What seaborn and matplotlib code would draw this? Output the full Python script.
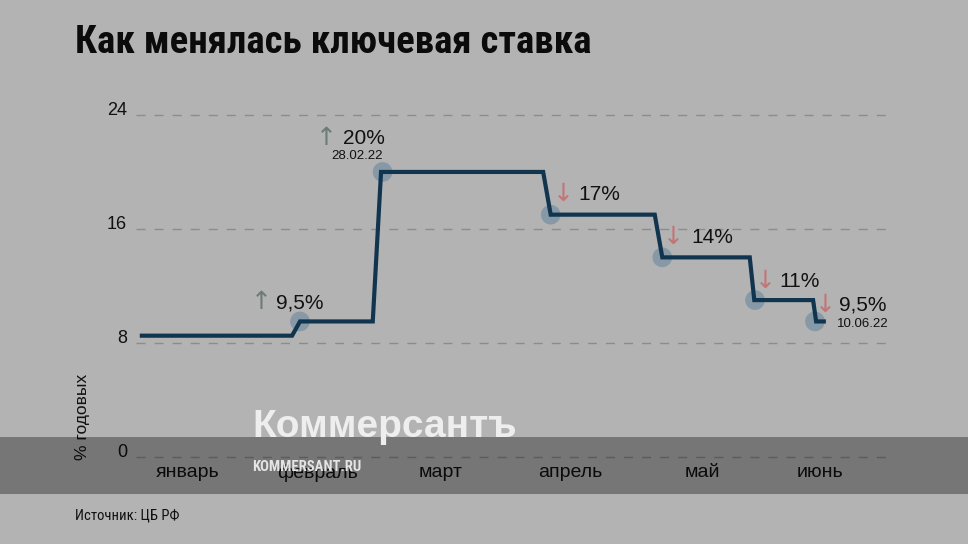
import matplotlib
matplotlib.use("Agg")
import matplotlib.pyplot as plt
from matplotlib import font_manager as fm
from matplotlib.patches import Rectangle
import seaborn as sns
import pandas as pd

# ---------------- data ----------------
title = "Как менялась ключевая ставка"
source = "Источник: ЦБ РФ"
y_label = "% годовых"
months = ["январь", "февраль", "март", "апрель", "май", "июнь"]
month_pos = [6.9, 24.1, 40.45, 57.55, 75.05, 90.7]          # timeline position of month labels
y_ticks = [0, 8, 16, 24]

# step line of the key rate (timeline position, rate %)
step_x = [0.5, 20.7, 21.75, 31.4, 32.5, 54.0, 55.0, 68.8, 69.8, 81.4, 82.0, 89.8, 90.2, 91.5]
step_rate = [8.5, 8.5, 9.5, 9.5, 20, 20, 17, 17, 14, 14, 11, 11, 9.5, 9.5]

# rate decisions (markers + labels)
change_x = [21.75, 32.7, 55.0, 69.8, 82.1, 90.05]
change_rate = [9.5, 20, 17, 14, 11, 9.5]
change_label = ["9,5%", "20%", "17%", "14%", "11%", "9,5%"]
change_dir = ["up", "up", "down", "down", "down", "down"]
change_date = ["", "28.02.22", "", "", "", "10.06.22"]

# ---------------- fonts ----------------
sns.set_theme(style="white")
names = {f.name for f in fm.fontManager.ttflist}
REG = "Liberation Sans" if "Liberation Sans" in names else "DejaVu Sans"
plt.rcParams["font.family"] = [REG, "DejaVu Sans"]


def narrow_font(bold):
    """Find an installed narrow/condensed font file; fall back to regular family."""
    prefs = ["liberationsansnarrow", "robotocondensed", "opensanscondensed",
             "notosanscondensed", "dejavusanscondensed"]
    cands = []
    for f in fm.fontManager.ttflist:
        key = (f.fname.split("/")[-1]).lower().replace("-", "").replace("_", "")
        if "narrow" in key or "condensed" in key:
            is_bold = ("bold" in key) and ("semibold" not in key) and ("extrabold" not in key)
            italic = "italic" in key or "oblique" in key
            light = any(w in key for w in ["light", "thin", "medium", "semi", "black", "extra"])
            if italic or light:
                continue
            if is_bold != bold:
                continue
            rank = len(prefs)
            for i, p in enumerate(prefs):
                if key.startswith(p):
                    rank = i
                    break
            cands.append((rank, f.fname))
    if cands:
        cands.sort()
        return fm.FontProperties(fname=cands[0][1])
    return fm.FontProperties(family=REG, weight="bold" if bold else "normal")


NB = narrow_font(True)
NR = narrow_font(False)

BG = "#b3b3b3"
LINE = "#11354f"
UP = "#6c7b76"
DOWN = "#c47475"
TXT = "#111111"

fig = plt.figure(figsize=(9.68, 5.44), dpi=100, facecolor=BG)
ax = fig.add_axes([136 / 968, 1 - 456.7 / 544, (890 - 136) / 968, (456.7 - 115) / 544])
ax.set_facecolor(BG)

df_line = pd.DataFrame({"x": step_x, "rate": step_rate})
df_pts = pd.DataFrame({"x": change_x, "rate": change_rate})

sns.scatterplot(data=df_pts, x="x", y="rate", s=200, color="#7c92a4", alpha=0.8,
                edgecolor="none", ax=ax, zorder=2, legend=False)
sns.lineplot(data=df_line, x="x", y="rate", sort=False, estimator=None,
             color=LINE, linewidth=3.0, ax=ax, zorder=3, legend=False)
for l in ax.lines:
    l.set_solid_joinstyle("miter")
    l.set_solid_capstyle("butt")

ax.set_xlim(0, 100)
ax.set_ylim(0, 24)
ax.set_yticks(y_ticks)
ax.set_yticklabels([str(v) for v in y_ticks], fontsize=13, color=TXT, family=REG)
for lbl in ax.get_yticklabels():
    lbl.set_va("baseline")
ax.set_xticks(month_pos)
ax.set_xticklabels(months, fontsize=14, color=TXT, family=REG)
ax.tick_params(axis="y", length=0, pad=6.5)
ax.tick_params(axis="x", length=0, pad=5.5)
ax.set_xlabel("")
ax.set_ylabel("")
ax.yaxis.grid(True, color="#8c8c8c", linewidth=1.0, linestyle=(0, (6.5, 6.5)))
ax.xaxis.grid(False)
for gl in ax.get_ygridlines():
    gl.set_clip_on(False)
for s in ax.spines.values():
    s.set_visible(False)

# annotation offsets in pixels: (arrow centre dx, value left dx, baseline dy, date dx, date dy, date ha)
offs = [
    (-39, -24, 13, 0, 0, "left"),
    (-56, -40, 28, -25, 13, "center"),
    (13, 28, 15, 0, 0, "left"),
    (11, 29, 14, 0, 0, "left"),
    (10, 24, 13, 0, 0, "left"),
    (10, 24, 11, 22, -6, "left"),
]
for x, r, lab, d, dt, o in zip(change_x, change_rate, change_label, change_dir, change_date, offs):
    adx, vdx, dy, ddx, ddy, dha = o
    arrow = "↑" if d == "up" else "↓"
    ax.annotate(arrow, (x, r), xytext=(adx, dy - 1), textcoords="offset pixels",
                ha="center", va="baseline", fontsize=18, color=UP if d == "up" else DOWN,
                family=["DejaVu Sans"], annotation_clip=False)
    ax.annotate(lab, (x, r), xytext=(vdx, dy), textcoords="offset pixels",
                ha="left", va="baseline", fontsize=15, color=TXT, family=REG,
                annotation_clip=False)
    if dt:
        ax.annotate(dt, (x, r), xytext=(ddx, ddy), textcoords="offset pixels",
                    ha=dha, va="baseline", fontsize=9.5, color=TXT, family=REG,
                    annotation_clip=False)

fig.text(83 / 968, 1 - 416.5 / 544, y_label, rotation=90, ha="center", va="center",
         fontsize=12.5, color=TXT, family=REG)

fig.text(75 / 968, 1 - 53 / 544, title, ha="left", va="baseline",
         color="#0b0b0b", fontproperties=NB).set_fontsize(28)
fig.text(75 / 968, 1 - 520 / 544, source, ha="left", va="baseline",
         color=TXT, fontproperties=NR).set_fontsize(10.5)

# watermark band + logo
fig.add_artist(Rectangle((0, 1 - 494 / 544), 1, (494 - 437) / 544, transform=fig.transFigure,
                         facecolor="black", alpha=0.34, edgecolor="none", zorder=5))
fig.text(252 / 968, 1 - 437 / 544, "Коммерсантъ", ha="left", va="baseline", fontsize=28,
         fontweight="bold", color="#eeeeee", family=REG, zorder=6)
t = fig.text(252 / 968, 1 - 471 / 544, "KOMMERSANT.RU", ha="left", va="baseline",
             color="#e4e4e4", fontproperties=NB, zorder=6)
t.set_fontsize(10.6)

fig.savefig("out.png", dpi=100, facecolor=BG)
